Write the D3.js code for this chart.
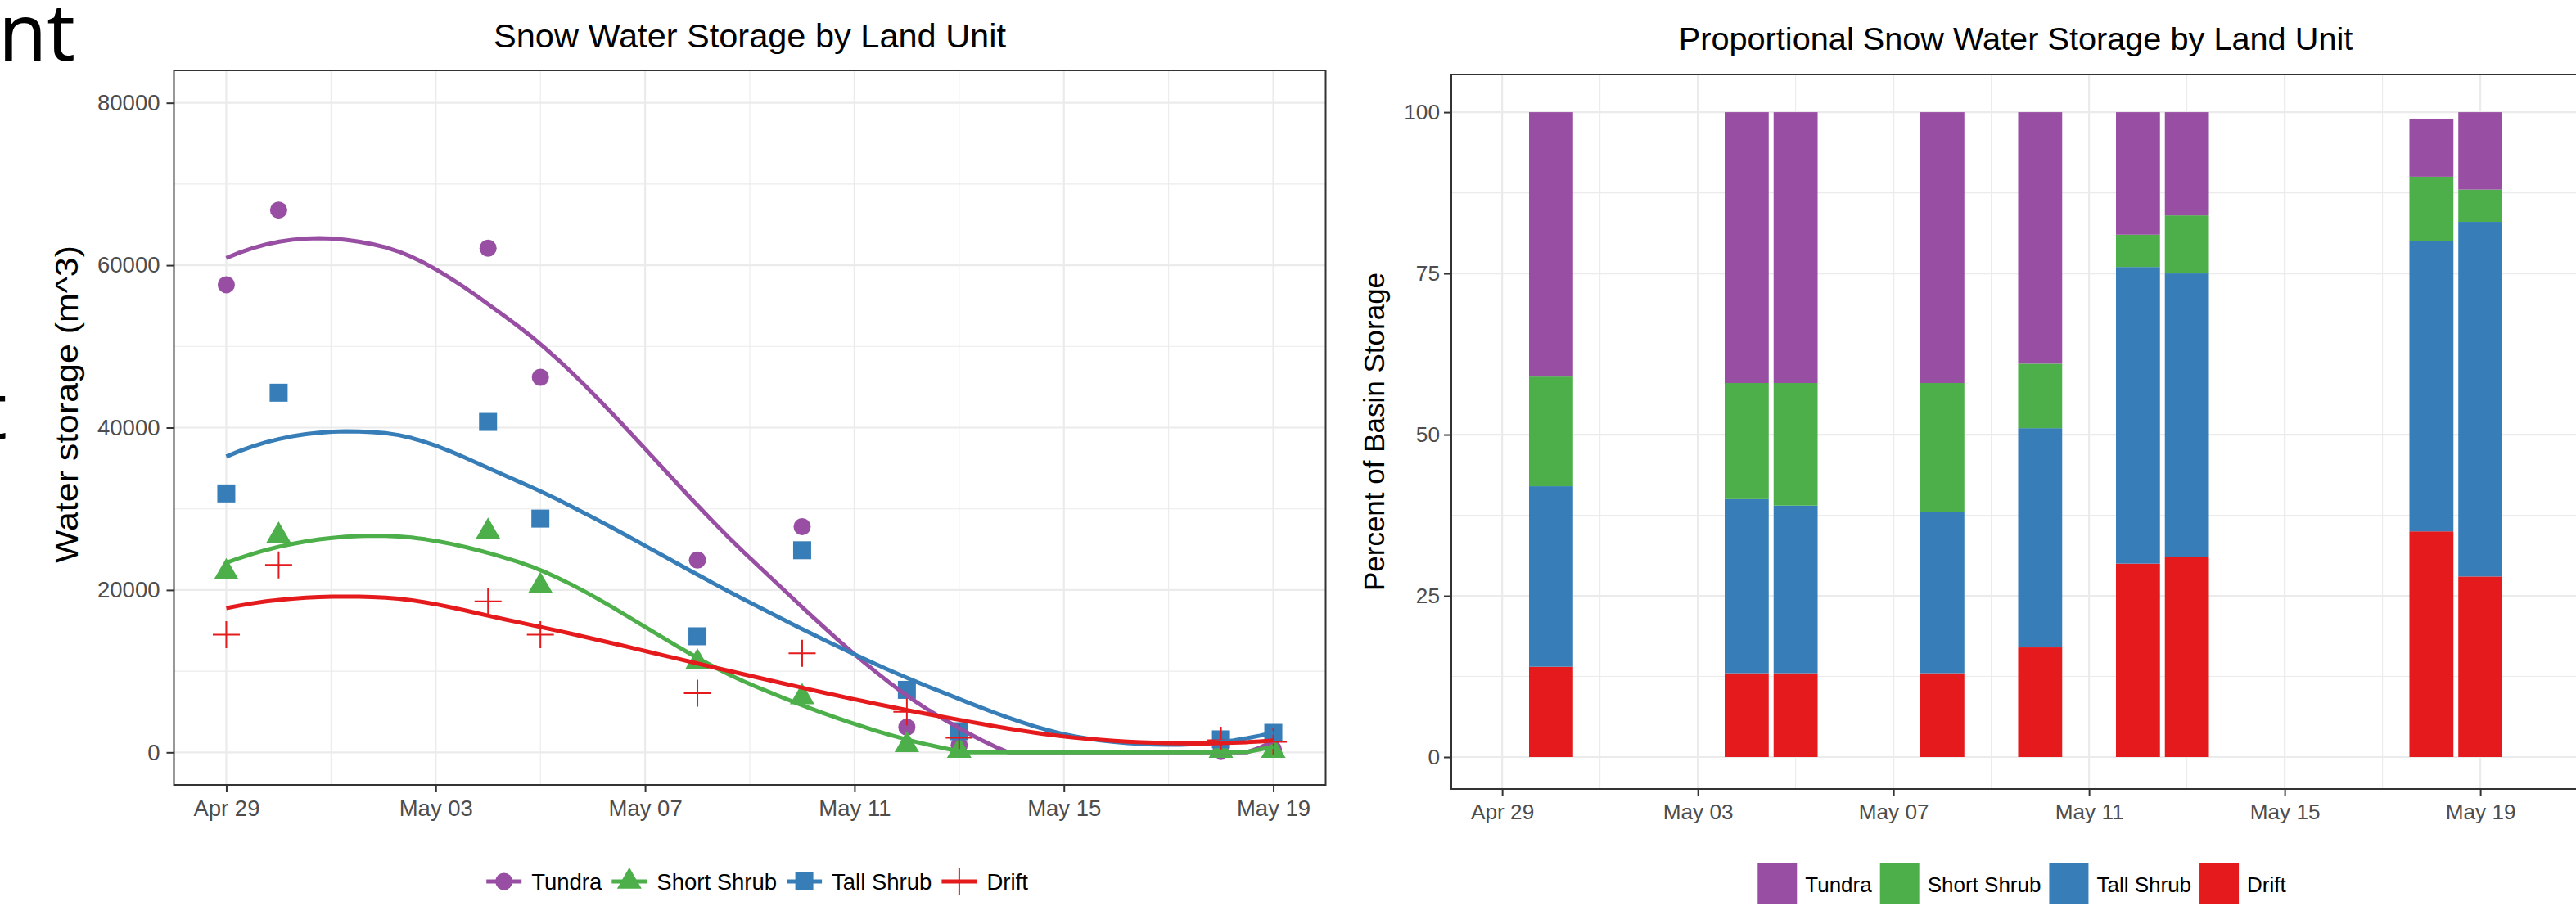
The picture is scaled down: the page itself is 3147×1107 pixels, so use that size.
<!DOCTYPE html>
<html>
<head>
<meta charset="utf-8">
<script src="https://cdn.jsdelivr.net/npm/d3@7"></script>
<style>
  body { margin: 0; background: #ffffff; }
  svg { display: block; }
</style>
</head>
<body>
<svg id="chart" width="3147" height="1107"></svg>
<script>
// ---------------------------------------------------------------
// Snow water storage (m^3) per land unit, by survey date
// ---------------------------------------------------------------
const surveyDates = ["2016-04-29", "2016-04-30", "2016-05-04", "2016-05-05", "2016-05-08",
                     "2016-05-10", "2016-05-12", "2016-05-13", "2016-05-18", "2016-05-19"];
const tundra     = [57600, 66800, 62100, 46200, 23700, 27800, 3100,  900,  200,  400];
const shortShrub = [22200, 26700, 27200, 20500, 11100,  6800,  900,  200,  200,  200];
const tallShrub  = [31900, 44300, 40700, 28800, 14300, 24900, 7700, 2600, 1600, 2400];
const drift      = [14500, 23100, 18600, 14500,  7300, 12200, 5000, 1800, 1500, 1300];

// Share of basin storage (%) per land unit
const shareDates = ["2016-04-30", "2016-05-04", "2016-05-05", "2016-05-08", "2016-05-10",
                    "2016-05-12", "2016-05-13", "2016-05-18", "2016-05-19"];
const tundraPct     = [41, 42, 42, 42, 39, 19, 16,  9, 12];
const shortShrubPct = [17, 18, 19, 20, 10,  5,  9, 10,  5];
const tallShrubPct  = [28, 27, 26, 25, 34, 46, 44, 45, 55];
const driftPct      = [14, 13, 13, 13, 17, 30, 31, 35, 28];

const unitNames  = ["Tundra", "Short Shrub", "Tall Shrub", "Drift"];
const unitColors = ["#984EA3", "#4DAF4A", "#377EB8", "#E41A1C"];
const unitShapes = ["circle", "triangle", "square", "cross"];

const storageTicks = [0, 20000, 40000, 60000, 80000];
const percentTicks = [0, 25, 50, 75, 100];
const dateTicks = ["2016-04-29", "2016-05-03", "2016-05-07", "2016-05-11", "2016-05-15", "2016-05-19"];

// ---------------------------------------------------------------
const FONT = '"Liberation Sans", Arial, Helvetica, sans-serif';
const GRID = "#EBEBEB";
const INK = "#333333";
const DAY = 864e5;
const parse = d3.utcParse("%Y-%m-%d");
const fmtDate = d3.utcFormat("%b %d");
const svg = d3.select("#chart");

const storage = [tundra, shortShrub, tallShrub, drift];
const shares = [tundraPct, shortShrubPct, tallShrubPct, driftPct];
const dates = surveyDates.map(parse);
const tickDates = dateTicks.map(parse);
const addDays = (d, n) => new Date(+d + n * DAY);

// ---------------------------------------------------------------
// Loess smoother: local quadratic fits (tricube weights, span 0.75)
// evaluated on kd-tree vertices and blended with cubic Hermite pieces
// ---------------------------------------------------------------
const LOESS_SPAN = 0.75, LOESS_CELL = 0.2;

function localFit(xs, ys, x0, span) {
  const n = xs.length, q = Math.floor(n * span);
  const dist = xs.map(x => Math.abs(x - x0));
  const h = dist.slice().sort((a, b) => a - b)[q - 1];
  const S = [[0, 0, 0], [0, 0, 0], [0, 0, 0]], b = [0, 0, 0];
  for (let i = 0; i < n; i++) {
    const u = dist[i] / h;
    if (u >= 1) continue;
    const w = Math.pow(1 - u * u * u, 3);
    const t = xs[i] - x0, basis = [1, t, t * t];
    for (let r = 0; r < 3; r++) {
      b[r] += w * basis[r] * ys[i];
      for (let c = 0; c < 3; c++) S[r][c] += w * basis[r] * basis[c];
    }
  }
  const A = S.map((row, i) => row.concat([b[i]]));
  for (let col = 0; col < 3; col++) {
    let piv = col;
    for (let r = col + 1; r < 3; r++) if (Math.abs(A[r][col]) > Math.abs(A[piv][col])) piv = r;
    [A[col], A[piv]] = [A[piv], A[col]];
    for (let r = col + 1; r < 3; r++) {
      const f = A[r][col] / A[col][col];
      for (let c = col; c < 4; c++) A[r][c] -= f * A[col][c];
    }
  }
  const a = [0, 0, 0];
  for (let r = 2; r >= 0; r--) {
    let s = A[r][3];
    for (let c = r + 1; c < 3; c++) s -= A[r][c] * a[c];
    a[r] = s / A[r][r];
  }
  return { value: a[0], slope: a[1] };
}

function kdVertices(xs, cell) {
  const s = xs.slice().sort((a, b) => a - b);
  const lo = s[0], hi = s[s.length - 1], mu = 0.005 * (hi - lo);
  const fc = Math.floor(xs.length * cell);
  const verts = [lo - mu, hi + mu];
  (function split(pts) {
    if (pts.length <= fc) return;
    const m = Math.floor((pts.length + 1) / 2);
    verts.push((pts[m - 1] + pts[m]) / 2);
    split(pts.slice(0, m));
    split(pts.slice(m));
  })(s);
  return Array.from(new Set(verts)).sort((a, b) => a - b);
}

function loessCurve(xs, ys, nOut) {
  const verts = kdVertices(xs, LOESS_CELL);
  const fits = verts.map(v => localFit(xs, ys, v, LOESS_SPAN));
  const lo = d3.min(xs), hi = d3.max(xs);
  return d3.range(nOut).map(k => {
    const x = lo + (hi - lo) * k / (nOut - 1);
    let i = d3.bisectRight(verts, x) - 1;
    i = Math.max(0, Math.min(verts.length - 2, i));
    const x0 = verts[i], x1 = verts[i + 1], hgt = x1 - x0, t = (x - x0) / hgt;
    const f0 = fits[i], f1 = fits[i + 1];
    const h00 = 2 * t * t * t - 3 * t * t + 1, h10 = t * t * t - 2 * t * t + t;
    const h01 = -2 * t * t * t + 3 * t * t, h11 = t * t * t - t * t;
    const y = h00 * f0.value + h10 * hgt * f0.slope + h01 * f1.value + h11 * hgt * f1.slope;
    return [x, y];
  });
}

// ---------------------------------------------------------------
function drawGrid(g, P, xScale, yScale, xMajor, xMinor, yMajor, yMinor) {
  const gg = g.append("g");
  gg.selectAll("line.xmin").data(xMinor).join("line")
    .attr("x1", d => xScale(d)).attr("x2", d => xScale(d))
    .attr("y1", P.top).attr("y2", P.bottom)
    .attr("stroke", GRID).attr("stroke-width", 1.1);
  gg.selectAll("line.ymin").data(yMinor).join("line")
    .attr("y1", d => yScale(d)).attr("y2", d => yScale(d))
    .attr("x1", P.left).attr("x2", P.right)
    .attr("stroke", GRID).attr("stroke-width", 1.1);
  gg.selectAll("line.xmaj").data(xMajor).join("line")
    .attr("x1", d => xScale(d)).attr("x2", d => xScale(d))
    .attr("y1", P.top).attr("y2", P.bottom)
    .attr("stroke", GRID).attr("stroke-width", 2.2);
  gg.selectAll("line.ymaj").data(yMajor).join("line")
    .attr("y1", d => yScale(d)).attr("y2", d => yScale(d))
    .attr("x1", P.left).attr("x2", P.right)
    .attr("stroke", GRID).attr("stroke-width", 2.2);
}

function minorDates(domain) {
  const out = [];
  tickDates.forEach(t => [-2, 2].forEach(k => {
    const d = addDays(t, k);
    if (d > domain[0] && d < domain[1] && !out.some(o => +o === +d)) out.push(d);
  }));
  return out;
}
const midpoints = ticks => ticks.slice(1).map((t, i) => (t + ticks[i]) / 2);

function styleAxis(g, fs) {
  g.attr("font-family", FONT).attr("font-size", fs);
  g.select(".domain").remove();
  g.selectAll(".tick line").attr("stroke", INK).attr("stroke-width", 2);
  g.selectAll(".tick text").attr("fill", "#4D4D4D");
}

function symbolPath(shape) {
  if (shape === "circle") return d3.symbol(d3.symbolCircle, Math.PI * 10.5 * 10.5)();
  if (shape === "square") return d3.symbol(d3.symbolSquare, 22 * 22)();
  if (shape === "triangle") return d3.symbol(d3.symbolTriangle, 3 * Math.sqrt(3) * 8.66 * 8.66)();
  return "M-16.5,0H16.5M0,-16.5V16.5";
}
function drawSymbol(g, shape, color, x, y) {
  const p = g.append("path").attr("d", symbolPath(shape))
    .attr("transform", `translate(${x},${y})`);
  if (shape === "cross") p.attr("fill", "none").attr("stroke", color).attr("stroke-width", 2);
  else p.attr("fill", color);
}

// ---------------------------------------------------------------
// Left: water storage points with smoothed trends
// ---------------------------------------------------------------
const P1 = { left: 212.5, right: 1619.5, top: 86, bottom: 959 };
const x1Dom = [addDays(dates[0], -1), addDays(dates[dates.length - 1], 1)];
const x1 = d3.scaleUtc().domain(x1Dom).range([P1.left, P1.right]);
const y1 = d3.scaleLinear().domain([-4000, 84000]).range([P1.bottom, P1.top]);

const g1 = svg.append("g");
drawGrid(g1, P1, x1, y1, tickDates, minorDates(x1Dom), storageTicks, midpoints(storageTicks));

svg.append("clipPath").attr("id", "clip1").append("rect")
  .attr("x", P1.left).attr("y", P1.top)
  .attr("width", P1.right - P1.left).attr("height", P1.bottom - P1.top);

const marks1 = g1.append("g").attr("clip-path", "url(#clip1)");
storage.forEach((vals, i) => {
  const sg = marks1.append("g");
  vals.forEach((v, j) => drawSymbol(sg, unitShapes[i], unitColors[i], x1(dates[j]), y1(v)));
});

// smoothed trend, squished onto the lower limit of the storage axis
const dayX = dates.map(d => (d - dates[0]) / DAY);
const line1 = d3.line().x(d => x1(addDays(dates[0], d[0]))).y(d => y1(Math.max(0, d[1])));
storage.forEach((vals, i) => {
  marks1.append("path").attr("d", line1(loessCurve(dayX, vals, 80)))
    .attr("fill", "none").attr("stroke", unitColors[i])
    .attr("stroke-width", 5).attr("stroke-linejoin", "round");
});

g1.append("rect").attr("x", P1.left).attr("y", P1.top)
  .attr("width", P1.right - P1.left).attr("height", P1.bottom - P1.top)
  .attr("fill", "none").attr("stroke", INK).attr("stroke-width", 2);

const ax1 = g1.append("g").attr("transform", `translate(0,${P1.bottom})`)
  .call(d3.axisBottom(x1).tickValues(tickDates).tickFormat(fmtDate).tickSize(9).tickPadding(9));
styleAxis(ax1, 27.5);
const ay1 = g1.append("g").attr("transform", `translate(${P1.left},0)`)
  .call(d3.axisLeft(y1).tickValues(storageTicks).tickFormat(d3.format("d")).tickSize(9).tickPadding(8));
styleAxis(ay1, 27.5);

g1.append("text").attr("x", (P1.left + P1.right) / 2).attr("y", 58)
  .attr("text-anchor", "middle").attr("font-family", FONT).attr("font-size", 41.5)
  .attr("fill", "#000").text("Snow Water Storage by Land Unit");
g1.append("text").attr("transform", "translate(95,494) rotate(-90)")
  .attr("text-anchor", "middle").attr("font-family", FONT).attr("font-size", 38)
  .attr("textLength", 388).attr("lengthAdjust", "spacingAndGlyphs")
  .attr("fill", "#000").text("Water storage (m^3)");

// legend: line + point keys
(function () {
  const lg = g1.append("g");
  const fs = 27.5, keyW = 43, gap = 12, cy = 1077;
  const widths = unitNames.map(n => {
    const t = lg.append("text").attr("font-family", FONT).attr("font-size", fs).text(n);
    const w = t.node().getComputedTextLength(); t.remove(); return w;
  });
  const total = d3.sum(widths) + unitNames.length * (keyW + gap) + (unitNames.length - 1) * gap;
  let x = 925 - total / 2;
  unitNames.forEach((n, i) => {
    lg.append("line").attr("x1", x).attr("x2", x + keyW).attr("y1", cy).attr("y2", cy)
      .attr("stroke", unitColors[i]).attr("stroke-width", 5);
    drawSymbol(lg, unitShapes[i], unitColors[i], x + keyW / 2, cy);
    lg.append("text").attr("x", x + keyW + gap).attr("y", cy).attr("dy", "0.35em")
      .attr("font-family", FONT).attr("font-size", fs).attr("fill", "#000").text(n);
    x += keyW + gap + widths[i] + gap;
  });
})();

// ---------------------------------------------------------------
// Right: proportional stacked bars
// ---------------------------------------------------------------
const P2 = { left: 1773, right: 3152, top: 91, bottom: 964 };
const barDates = shareDates.map(parse);
const x2Dom = [addDays(tickDates[0], -1.04), addDays(tickDates[0], 22.04)];
const x2 = d3.scaleUtc().domain(x2Dom).range([P2.left, P2.right]);
const y2 = d3.scaleLinear().domain([-4.95, 105.85]).range([P2.bottom, P2.top]);

const g2 = svg.append("g");
drawGrid(g2, P2, x2, y2, tickDates, minorDates(x2Dom), percentTicks, midpoints(percentTicks));

const rows = barDates.map((d, j) => {
  const r = { date: d };
  unitNames.forEach((n, i) => { r[n] = shares[i][j]; });
  return r;
});
const stackKeys = unitNames.slice().reverse();   // Drift at the base, Tundra on top
const stacked = d3.stack().keys(stackKeys)(rows);
const colorOf = d3.scaleOrdinal().domain(unitNames).range(unitColors);

g2.append("g").selectAll("g").data(stacked).join("g")
  .attr("fill", d => colorOf(d.key))
  .selectAll("rect").data(d => d).join("rect")
  .attr("x", d => x2(addDays(d.data.date, -0.45)))
  .attr("width", d => x2(addDays(d.data.date, 0.45)) - x2(addDays(d.data.date, -0.45)))
  .attr("y", d => y2(d[1]))
  .attr("height", d => y2(d[0]) - y2(d[1]));

g2.append("rect").attr("x", P2.left).attr("y", P2.top)
  .attr("width", P2.right - P2.left).attr("height", P2.bottom - P2.top)
  .attr("fill", "none").attr("stroke", INK).attr("stroke-width", 2);

const ax2 = g2.append("g").attr("transform", `translate(0,${P2.bottom})`)
  .call(d3.axisBottom(x2).tickValues(tickDates).tickFormat(fmtDate).tickSize(9).tickPadding(9));
styleAxis(ax2, 26.2);
const ay2 = g2.append("g").attr("transform", `translate(${P2.left},0)`)
  .call(d3.axisLeft(y2).tickValues(percentTicks).tickFormat(d3.format("d")).tickSize(9).tickPadding(5));
styleAxis(ay2, 26.2);

g2.append("text").attr("x", (P2.left + P2.right) / 2).attr("y", 61)
  .attr("text-anchor", "middle").attr("font-family", FONT).attr("font-size", 39.7)
  .attr("fill", "#000").text("Proportional Snow Water Storage by Land Unit");
g2.append("text").attr("transform", `translate(1691,${(P2.top + P2.bottom) / 2}) rotate(-90)`)
  .attr("text-anchor", "middle").attr("font-family", FONT).attr("font-size", 35)
  .attr("fill", "#000").text("Percent of Basin Storage");

// legend: filled keys
(function () {
  const lg = g2.append("g");
  const fs = 26, keyW = 48, keyH = 50, gap = 10, cy = 1079;
  const widths = unitNames.map(n => {
    const t = lg.append("text").attr("font-family", FONT).attr("font-size", fs).text(n);
    const w = t.node().getComputedTextLength(); t.remove(); return w;
  });
  const total = d3.sum(widths) + unitNames.length * (keyW + gap) + (unitNames.length - 1) * gap;
  let x = 2470 - total / 2;
  unitNames.forEach((n, i) => {
    lg.append("rect").attr("x", x).attr("y", cy - keyH / 2).attr("width", keyW).attr("height", keyH)
      .attr("fill", unitColors[i]);
    lg.append("text").attr("x", x + keyW + gap).attr("y", cy).attr("dy", "0.42em")
      .attr("font-family", FONT).attr("font-size", fs).attr("fill", "#000").text(n);
    x += keyW + gap + widths[i] + gap;
  });
})();

// ---------------------------------------------------------------
// Slide heading fragments at the left edge
// ---------------------------------------------------------------
svg.append("text").attr("x", 92).attr("y", 74).attr("text-anchor", "end")
  .attr("font-family", '"Noto Sans", "Open Sans", sans-serif').attr("font-size", 96)
  .attr("fill", "#000").text("nt");
svg.append("text").attr("x", -26).attr("y", 536)
  .attr("font-family", '"Noto Sans", "Open Sans", sans-serif').attr("font-size", 96)
  .attr("fill", "#000").text("t");
</script>
</body>
</html>
